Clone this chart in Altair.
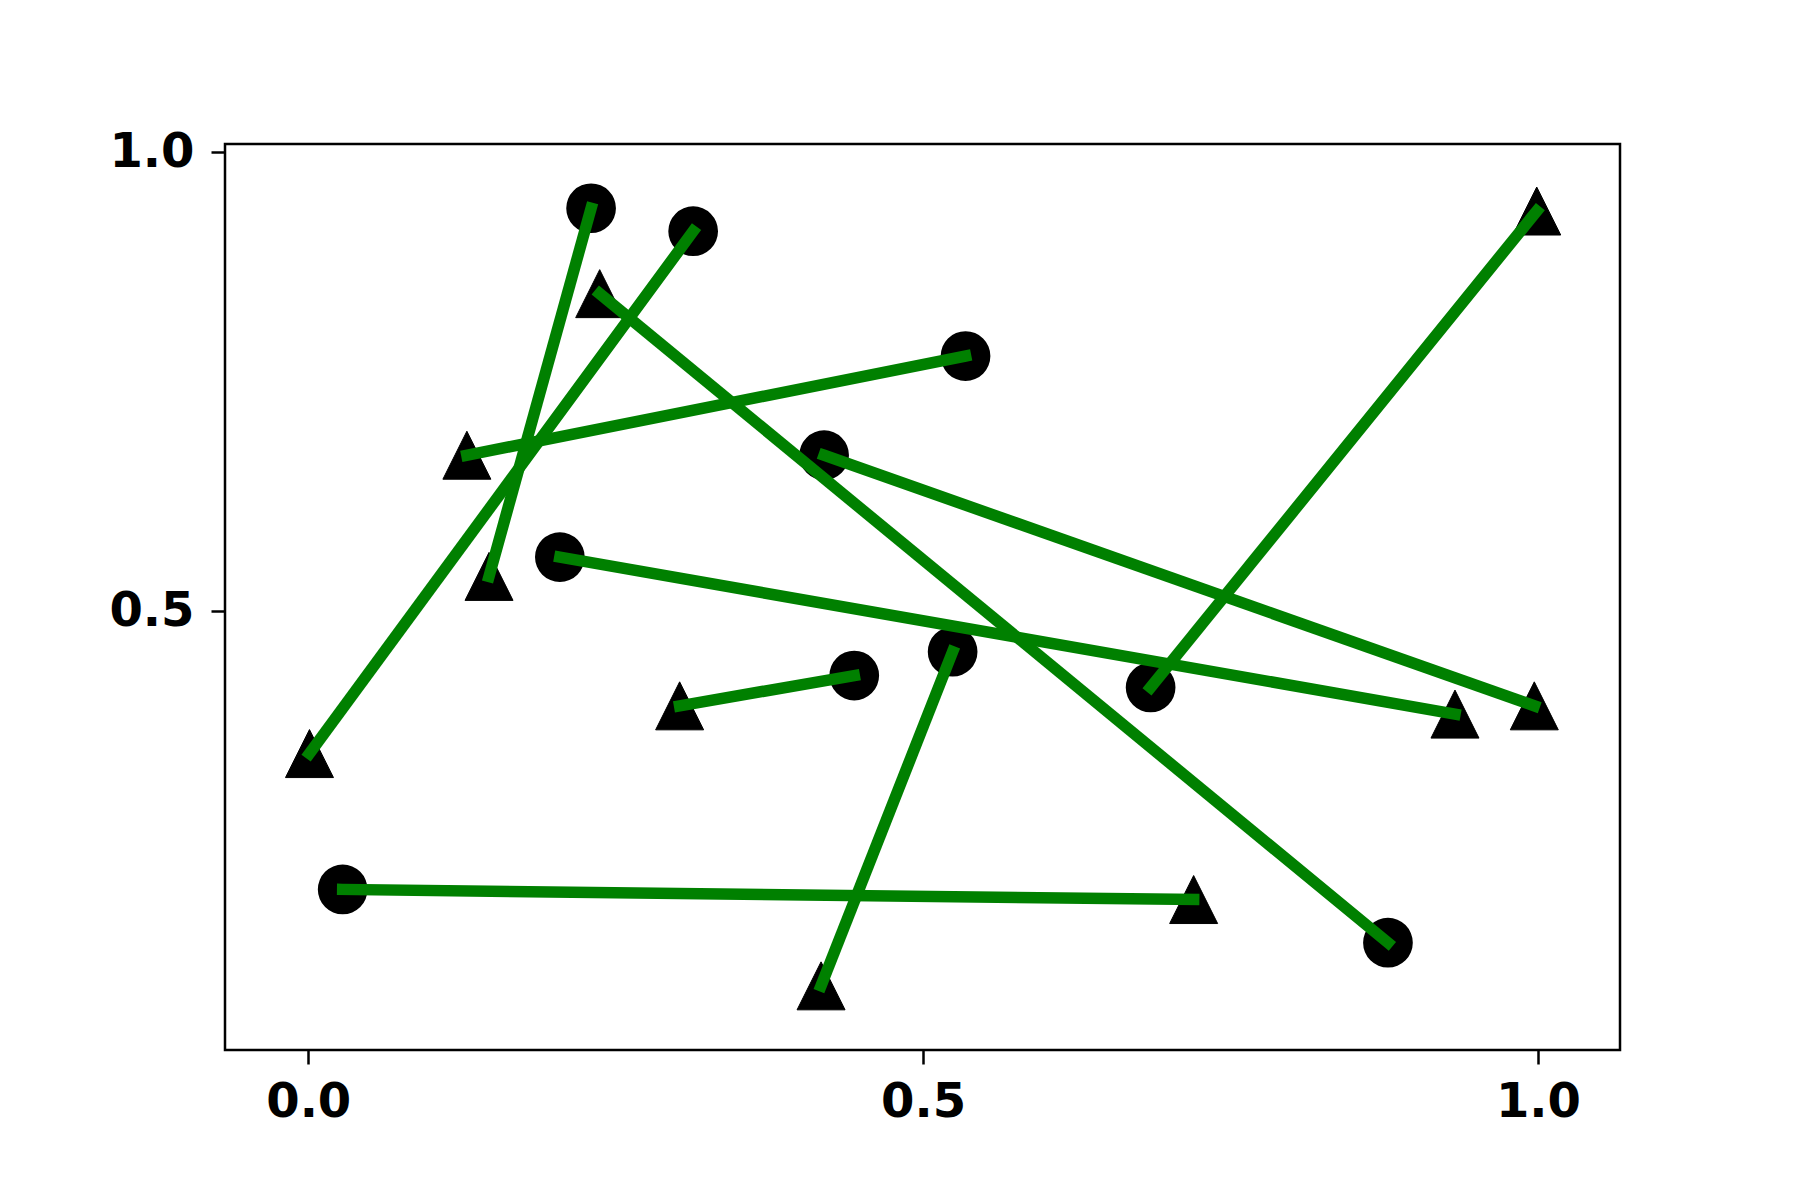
import altair as alt
import pandas as pd

# Each pair: circle end -> triangle end
circle_x = [0.230, 0.313, 0.5345, 0.4195, 0.2046, 0.524, 0.444, 0.685, 0.028, 0.878]
circle_y = [0.939, 0.914, 0.778, 0.670, 0.559, 0.456, 0.430, 0.417, 0.197, 0.139]
tri_x = [0.147, 0.001, 0.129, 0.997, 0.9325, 0.417, 0.302, 0.999, 0.720, 0.237]
tri_y = [0.538, 0.345, 0.670, 0.397, 0.388, 0.092, 0.397, 0.936, 0.186, 0.846]

x_ticks = [0.0, 0.5, 1.0]
y_ticks = [0.5, 1.0]

df = pd.DataFrame({"cx": circle_x, "cy": circle_y, "tx": tri_x, "ty": tri_y})

xs = alt.Scale(domain=[-0.0677, 1.0667], nice=False, zero=False)
ys = alt.Scale(domain=[0.0221, 1.009], nice=False, zero=False)

xaxis = alt.Axis(values=x_ticks, format=".1f", title=None, grid=False, domain=False,
                 tickSize=14, tickWidth=2.5, tickColor="black", labelPadding=14,
                 labelFont="DejaVu Sans", labelFontSize=48, labelFontWeight="bold",
                 labelColor="black")
yaxis = alt.Axis(values=y_ticks, format=".1f", title=None, grid=False, domain=False,
                 tickSize=14, tickWidth=2.5, tickColor="black", labelPadding=17,
                 labelFont="DejaVu Sans", labelFontSize=48, labelFontWeight="bold",
                 labelColor="black")

base = alt.Chart(df)

circles = base.mark_point(shape="circle", filled=True, size=2470, color="black", opacity=1).encode(
    x=alt.X("cx:Q", scale=xs, axis=xaxis),
    y=alt.Y("cy:Q", scale=ys, axis=yaxis),
)

triangles = base.mark_point(shape="M0,-1L-1,1L1,1Z", filled=True, size=2304, color="black",
                            opacity=1, stroke="black", strokeWidth=1, strokeJoin="round").encode(
    x=alt.X("tx:Q", scale=xs),
    y=alt.Y("ty:Q", scale=ys),
)

lines = base.mark_rule(color="#008000", strokeWidth=11.5, strokeCap="square").encode(
    x=alt.X("cx:Q", scale=xs),
    y=alt.Y("cy:Q", scale=ys),
    x2="tx:Q",
    y2="ty:Q",
)

chart = alt.layer(circles, triangles, lines).properties(
    width=1395, height=906,
    autosize=alt.AutoSizeParams(type="none"),
    padding={"left": 217, "top": 136, "right": 172, "bottom": 142},
    background="white",
).configure_view(stroke="black", strokeWidth=2.5)

chart.save("out.html", embed_options={"renderer": "svg", "actions": False})
